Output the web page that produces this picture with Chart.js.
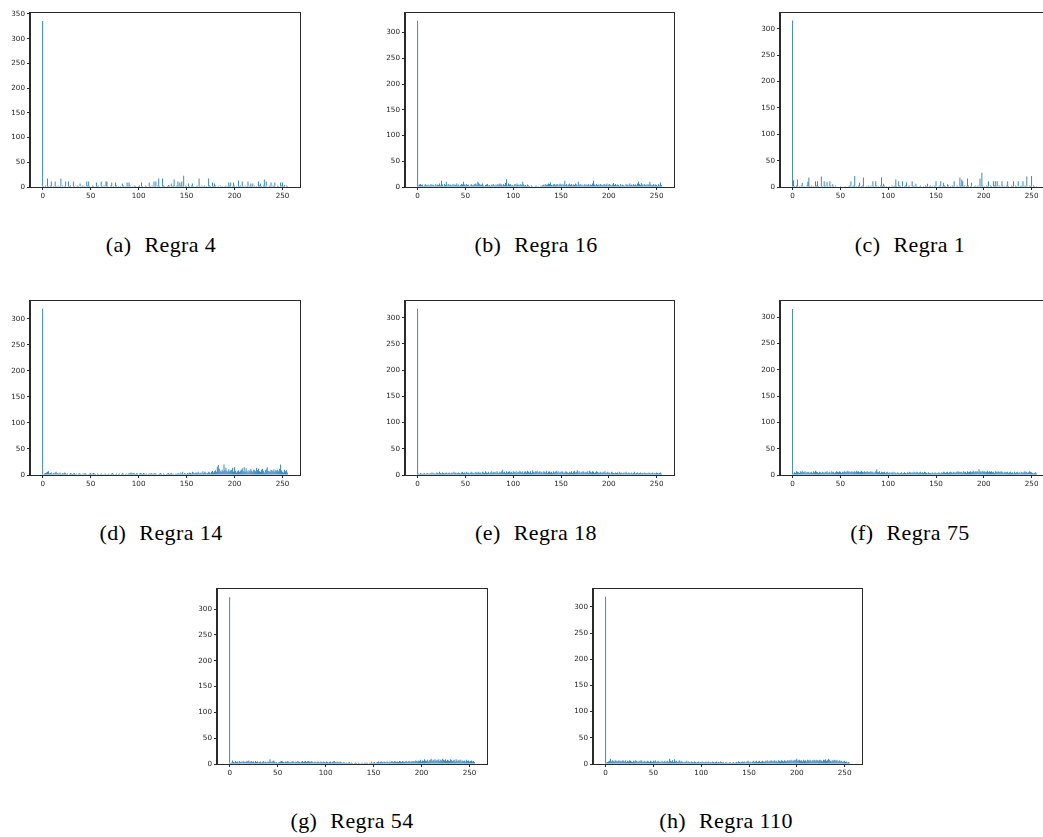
<!DOCTYPE html>
<html><head><meta charset="utf-8">
<script src="https://cdn.jsdelivr.net/npm/chart.js@4/dist/chart.umd.min.js"></script>
<style>
html,body{margin:0;padding:0;background:#fff;}
body{width:1043px;height:837px;overflow:hidden;position:relative;}
.p{position:absolute;}
.cap{position:absolute;font-family:"Liberation Serif","DejaVu Serif",serif;font-size:22px;letter-spacing:0.4px;color:#000;transform:translate(-50%,-50%);white-space:nowrap;}
.cap .lb{margin-right:13px;}
</style></head><body>
<script>
// ---- data ----
const bins = [];
for (let i = 0; i < 256; i++) bins.push(i);
const xTicks = [0, 50, 100, 150, 200, 250];
const yTicks = [0, 50, 100, 150, 200, 250, 300, 350];
const labels = ['(a)', '(b)', '(c)', '(d)', '(e)', '(f)', '(g)', '(h)'];
const titles = ['Regra 4', 'Regra 16', 'Regra 1', 'Regra 14', 'Regra 18', 'Regra 75', 'Regra 54', 'Regra 110'];

const regra4 = [
336,2,0,3,1,17,2,0,3,11,1,2,0,11,2,1,
3,0,2,17,1,3,0,2,11,1,0,11,2,3,1,0,
11,2,0,1,3,2,0,7,1,2,3,0,2,1,11,3,
11,2,1,0,3,2,1,0,9,2,3,1,0,11,2,1,
3,0,11,11,2,1,0,3,9,1,2,0,9,3,1,2,
0,2,1,7,3,0,2,1,9,2,9,3,1,0,2,1,
3,2,0,1,2,3,1,9,2,0,1,3,2,1,0,9,
2,1,3,0,11,2,11,1,3,17,2,0,1,17,3,2,
1,0,2,4,3,1,7,2,3,15,1,2,3,11,2,9,
3,11,2,23,1,3,2,0,7,2,1,3,7,2,0,1,
2,3,1,17,2,0,3,1,2,3,0,2,1,17,3,2,
1,9,2,7,3,1,0,2,1,3,0,2,1,0,2,3,
1,2,9,3,9,1,2,9,3,1,2,0,13,2,3,1,
11,2,1,3,0,2,11,1,3,7,2,7,1,3,0,2,
1,11,3,7,2,1,3,15,2,11,1,0,3,2,9,1,
3,2,9,1,0,3,2,1,9,3,9,2,4,1,3,2];

const regra16 = [
323,3,5,6,4,5,2,3,6,4,3,5,2,4,6,3,
5,4,2,6,3,5,4,7,3,12,5,2,6,4,10,3,
6,3,5,4,2,6,3,5,4,7,3,5,2,4,6,5,
10,5,3,6,4,5,2,3,6,4,3,5,6,7,4,10,
8,6,4,5,7,3,2,4,5,6,3,4,2,5,3,6,
4,2,5,3,6,4,7,5,5,3,6,4,8,15,3,7,
5,6,3,4,2,5,6,3,7,4,5,3,6,4,10,5,
3,4,2,5,3,2,1,3,2,0,1,2,3,1,2,0,
1,3,2,4,5,3,6,4,5,7,6,9,4,3,5,6,
4,5,6,3,5,7,4,6,3,5,12,4,6,3,5,7,
4,6,3,5,4,7,5,3,10,4,6,3,5,2,4,6,
3,5,4,6,3,5,4,7,12,5,3,6,4,5,3,6,
5,4,3,6,5,4,7,3,5,6,4,3,5,8,4,6,
3,5,4,2,6,3,5,4,3,2,6,4,5,3,7,4,
5,3,6,4,5,3,7,10,6,4,8,5,3,6,4,5,
3,6,4,10,5,3,4,6,3,5,4,2,6,3,9,4];

const regra1 = [
316,13,2,0,3,14,1,2,0,3,8,1,2,0,1,3,
10,18,2,1,3,0,2,1,11,3,11,2,0,1,20,2,
1,11,3,0,10,2,1,11,3,0,5,2,1,3,1,0,
1,0,2,1,1,0,1,2,0,1,1,3,2,11,1,2,
3,21,1,2,0,3,8,1,2,3,18,1,0,2,1,3,
2,1,3,0,11,2,1,11,3,0,2,1,3,18,2,6,
3,1,2,0,1,2,0,1,3,1,2,3,14,2,1,11,
3,2,1,11,0,2,3,9,1,2,3,0,1,11,2,3,
1,6,2,0,1,2,3,1,0,2,1,3,2,6,1,2,
3,0,2,1,3,2,11,1,0,2,3,11,1,2,8,3,
2,1,5,3,0,2,1,3,2,11,1,0,3,2,1,18,
3,14,11,2,3,1,2,16,3,1,2,8,1,0,2,3,
1,2,3,1,16,2,27,3,1,2,0,3,2,11,1,3,
2,0,11,3,11,2,11,1,3,2,1,11,3,0,2,1,
3,11,2,1,0,3,2,11,1,3,2,1,11,0,2,3,
2,11,1,3,2,20,1,0,3,2,21,1,3,2,1,2];

const regra14 = [
319,2,3,4,5,6,7,3,4,5,2,4,3,5,6,3,
4,2,5,3,2,4,3,5,4,2,3,1,2,4,3,2,
3,4,2,3,1,2,4,3,2,1,3,2,4,3,2,1,
2,3,4,2,3,4,3,2,1,3,2,1,2,3,1,2,
1,3,2,1,2,3,1,2,3,4,2,1,2,3,1,2,
3,1,2,4,3,1,2,3,1,2,4,3,5,4,3,4,
3,2,4,3,1,3,4,3,2,4,3,2,3,1,2,3,
2,4,3,2,3,4,3,2,1,2,3,4,2,1,3,2,
1,2,3,4,2,3,4,2,3,1,2,3,2,4,3,2,
5,3,6,2,4,3,2,4,3,5,4,3,6,5,3,4,
5,4,6,3,4,5,3,7,4,6,5,3,4,6,5,3,
6,8,5,7,9,6,16,19,12,8,6,10,7,20,9,14,
8,6,11,7,9,10,14,6,15,8,5,7,9,6,8,10,
13,7,15,6,13,8,5,9,7,12,8,6,10,9,7,14,
9,12,7,6,10,12,8,5,9,11,15,8,7,6,10,9,
7,11,6,9,8,10,7,12,20,9,6,5,10,7,9,5];

const regra18 = [
317,3,2,4,3,2,3,4,2,3,4,3,2,4,3,5,
3,4,2,3,5,4,3,6,4,3,5,4,3,4,5,3,
4,5,3,4,5,3,6,4,5,3,4,5,4,3,5,6,
4,5,3,6,4,5,3,4,6,5,4,3,5,6,4,5,
6,4,5,3,6,5,4,7,5,4,6,3,5,7,4,6,
5,6,4,7,5,4,6,5,7,10,5,6,4,7,5,6,
7,5,6,4,7,6,5,7,4,6,5,8,6,5,7,4,
6,7,5,8,6,5,7,4,9,6,5,7,6,8,5,6,
7,5,6,4,7,6,5,8,4,6,7,5,6,4,7,5,
6,8,5,7,4,6,5,7,6,4,5,7,6,5,4,6,
5,7,4,6,8,5,6,9,5,7,4,6,5,7,6,4,
6,5,7,4,8,6,5,7,6,4,5,7,6,5,4,6,
5,4,6,5,7,4,5,6,4,5,3,6,5,4,3,5,
4,5,3,6,4,5,3,4,5,3,6,4,3,5,4,3,
5,3,4,6,3,4,5,3,4,5,3,4,3,5,4,3,
4,3,5,4,3,4,5,3,4,3,5,4,3,4,5,3];

const regra75 = [
316,3,5,4,7,6,5,4,7,5,8,6,5,7,4,6,
5,6,4,5,6,4,7,5,8,6,5,4,6,5,4,6,
5,4,6,5,7,4,5,6,4,7,5,6,4,5,7,6,
5,7,6,4,6,5,7,6,5,8,6,7,5,6,7,5,
6,7,5,8,6,7,5,6,8,6,5,7,6,5,7,6,
5,6,7,5,6,4,5,7,11,6,5,7,4,6,5,5,
6,4,5,6,4,5,3,5,4,6,3,5,4,3,5,4,
3,4,5,3,4,5,4,3,5,4,6,5,4,5,4,6,
5,4,6,5,4,5,6,4,5,4,6,5,4,3,5,4,
4,3,5,4,3,5,4,3,4,5,4,3,5,4,6,5,
4,5,6,4,5,6,5,4,6,5,4,6,5,7,5,6,
5,6,4,7,5,6,4,7,5,6,7,5,6,8,5,7,
6,7,5,11,6,7,5,8,6,7,5,6,8,5,7,6,
7,5,6,4,7,6,5,7,6,5,7,6,5,4,6,5,
5,6,4,5,6,4,5,3,6,4,5,6,4,5,3,6,
5,4,6,7,5,6,4,5,7,6,5,4,3,4,5,3];

const regra54 = [
323,2,3,7,4,3,6,4,5,3,6,4,5,3,6,4,
5,4,6,5,7,4,5,6,4,5,3,6,4,5,3,4,
5,3,4,6,3,5,4,3,5,4,9,5,4,6,7,5,
3,4,2,3,4,5,6,5,4,3,5,4,6,5,4,3,
4,5,6,4,3,5,4,6,5,4,3,5,6,4,5,6,
4,5,6,5,4,6,5,3,4,5,3,4,5,4,3,5,
4,3,5,4,3,5,4,3,4,5,3,4,5,6,4,3,
5,4,3,5,4,3,2,4,3,2,3,2,3,4,2,3,
2,1,2,3,2,1,3,2,1,2,3,1,2,3,2,3,
2,1,3,2,5,2,3,4,2,3,4,5,3,4,5,4,
3,5,4,3,5,4,3,5,4,6,5,4,6,5,4,5,
4,6,5,4,6,5,4,5,6,4,5,6,5,4,6,5,
6,5,7,6,5,7,6,8,5,7,6,9,7,6,8,5,
7,8,10,6,8,7,9,6,8,7,9,6,8,7,10,8,
7,9,6,8,7,6,9,8,6,7,8,5,9,6,7,8,
6,8,5,7,6,7,5,8,6,7,5,6,7,5,6,4];

const regra110 = [
319,3,4,5,6,10,5,7,6,5,7,6,5,6,7,5,
6,5,7,6,5,7,4,6,5,7,6,5,4,6,5,7,
6,5,4,6,5,7,6,4,5,6,4,5,6,5,4,6,
5,4,6,5,7,4,5,6,4,5,3,6,4,5,6,4,
5,6,4,10,6,5,7,4,9,5,6,4,5,7,4,6,
5,4,3,5,4,6,3,5,4,3,5,4,3,5,4,3,
4,5,3,4,3,5,4,3,4,5,3,4,5,3,4,3,
5,4,3,4,5,3,4,3,5,4,3,4,2,3,4,2,
3,2,4,3,2,3,4,2,3,4,3,5,4,3,4,5,
4,5,3,4,5,6,4,5,3,4,5,6,4,5,6,4,
5,6,4,5,6,5,4,6,5,7,4,6,5,7,6,5,
6,7,5,6,4,7,6,5,7,6,5,7,6,5,7,6,
7,6,8,5,7,6,8,7,10,6,7,8,6,7,5,8,
6,7,5,8,7,6,8,5,7,6,8,7,6,8,7,6,
8,7,6,5,8,7,9,6,7,10,8,6,5,7,6,8,
7,6,8,5,6,7,5,6,4,5,6,4,5,3,4,3];

const series = [regra4, regra16, regra1, regra14, regra18, regra75, regra54, regra110];
const yMaxes = [352, 338, 330, 334, 332, 331, 339, 334];

// ---- layout (positions only) ----
const boxes = [
  {L:30,  T:13,  R:300, B:187, cx:161, cy:245},
  {L:405, T:13,  R:674, B:187, cx:536, cy:245},
  {L:780, T:13,  R:1049,B:187, cx:910, cy:245},
  {L:30,  T:301, R:300, B:475, cx:161, cy:533},
  {L:405, T:301, R:674, B:475, cx:536, cy:533},
  {L:780, T:301, R:1049,B:475, cx:910, cy:533},
  {L:217, T:589, R:487, B:764, cx:352, cy:821},
  {L:593, T:589, R:862, B:764, cx:726, cy:821}
];
const YW = 32, XH = 22, PT = 8, PR = 8;

const framePlugin = {
  id: 'frame',
  afterDraw(chart) {
    const a = chart.chartArea, ctx = chart.ctx;
    ctx.save();
    ctx.strokeStyle = '#2a2a2a';
    ctx.lineWidth = 1;
    ctx.strokeRect(Math.round(a.left) - 0.5, Math.round(a.top) - 0.5, Math.round(a.right - a.left) + 1, Math.round(a.bottom - a.top) + 1);
    ctx.restore();
  }
};

const tickFont = {family: 'DejaVu Sans', size: 7.2};

boxes.forEach((b, k) => {
  const W = (b.R - b.L) + YW + PR, H = (b.B - b.T) + PT + XH;
  const cv = document.createElement('canvas');
  cv.className = 'p';
  cv.width = W; cv.height = H;
  cv.style.left = (b.L - YW) + 'px';
  cv.style.top = (b.T - PT) + 'px';
  cv.style.width = W + 'px'; cv.style.height = H + 'px';
  document.body.appendChild(cv);
  const vals = series[k];
  const yMax = yMaxes[k];
  new Chart(cv, {
    type: 'bar',
    data: {
      datasets: [{
        data: bins.map((x, i) => ({x: x, y: vals[i]})),
        backgroundColor: '#1f77b4',
        borderWidth: 0,
        barPercentage: 1,
        categoryPercentage: 0.9,
        inflateAmount: 0
      }]
    },
    options: {
      responsive: false,
      animation: false,
      devicePixelRatio: 1,
      layout: {padding: {left: 0, top: PT, right: PR, bottom: 0}},
      plugins: {legend: {display: false}, tooltip: {enabled: false}, title: {display: false}},
      scales: {
        x: {
          type: 'linear', min: -13.2, max: 268.2, offset: false,
          afterBuildTicks: s => { s.ticks = xTicks.map(v => ({value: v})); },
          afterFit: s => { s.height = XH; },
          grid: {offset: false, drawOnChartArea: false, drawTicks: true, tickLength: 3, color: '#2a2a2a', lineWidth: 1},
          border: {display: true, color: '#2a2a2a', width: 1},
          ticks: {font: tickFont, color: '#222', padding: 2, maxRotation: 0, autoSkip: false}
        },
        y: {
          type: 'linear', min: 0, max: yMax,
          afterBuildTicks: s => { s.ticks = yTicks.filter(v => v <= yMax).map(v => ({value: v})); },
          afterFit: s => { s.width = YW; },
          grid: {drawOnChartArea: false, drawTicks: true, tickLength: 3, color: '#2a2a2a', lineWidth: 1},
          border: {display: true, color: '#2a2a2a', width: 1},
          ticks: {font: tickFont, color: '#222', padding: 2, autoSkip: false}
        }
      }
    },
    plugins: [framePlugin]
  });
  const cap = document.createElement('div');
  cap.className = 'cap';
  cap.style.left = b.cx + 'px';
  cap.style.top = b.cy + 'px';
  const lb = document.createElement('span'); lb.className = 'lb'; lb.textContent = labels[k];
  const tt = document.createElement('span'); tt.textContent = titles[k];
  cap.appendChild(lb); cap.appendChild(tt);
  document.body.appendChild(cap);
});
</script>
</body></html>
